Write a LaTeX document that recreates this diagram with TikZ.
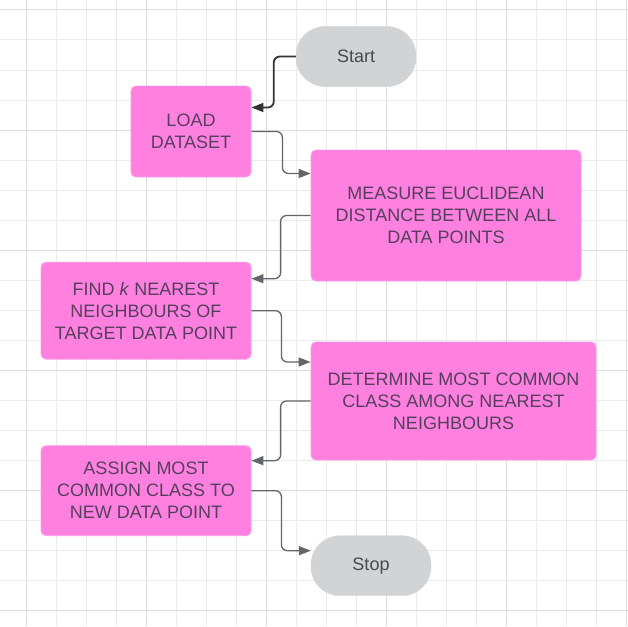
\documentclass[tikz,border=0pt]{standalone}
\usepackage{fontspec}
\setmainfont{Liberation Sans}
\usetikzlibrary{arrows.meta}
\definecolor{boxpink}{HTML}{FF80DF}
\definecolor{boxedge}{HTML}{FF9CE8}
\definecolor{pillgray}{HTML}{D2D3D5}
\definecolor{textink}{HTML}{54405E}
\definecolor{pillink}{HTML}{454950}
\definecolor{wire}{HTML}{62656A}
\definecolor{gridminor}{HTML}{EBEBEB}
\definecolor{gridmajor}{HTML}{DDDDDD}
\tikzset{
  procbox/.style={rectangle, rounded corners=5pt, fill=boxpink, draw=boxedge, line width=0.8pt,
    text=textink, align=center, inner sep=0pt, font=\fontsize{18}{22}\selectfont},
  pill/.style={rectangle, rounded corners=29pt, fill=pillgray, draw=pillgray,
    text=pillink, inner sep=0pt, minimum width=120pt, minimum height=60pt, font=\fontsize{18}{22}\selectfont},
  conn/.style={draw=wire, line width=1.3pt, rounded corners=6pt,
    -{Triangle[length=12pt,width=9pt]}},
}

\begin{document}
\begin{tikzpicture}[x=1pt,y=-1pt]
		\useasboundingbox (0,0) rectangle (628,626);
		\fill[white] (0,0) rectangle (628,626);
		% grid
		\foreach \gx in {56.7,86.7,116.7,176.7,206.7,236.7,296.7,326.7,356.7,416.7,446.7,476.7,536.7,566.7,596.7}
			\draw[gridminor, line width=1pt] (\gx,0) -- (\gx,626);
		\foreach \gy in {40,70,100,160,190,220,280,310,340,400,430,460,520,550,580}
			\draw[gridminor, line width=1pt] (0,\gy) -- (628,\gy);
		\foreach \gx in {26.7,146.7,266.7,386.7,506.7,626.7}
			\draw[gridmajor, line width=1pt] (\gx,0) -- (\gx,626);
		\foreach \gy in {10,130,250,370,490,610}
			\draw[gridmajor, line width=1pt] (0,\gy) -- (628,\gy);
		% steps
		\node[pill] (start) at (356,56.5) {Start};
		\node[procbox, minimum width=120pt, minimum height=91pt] (load) at (191,131.5) {LOAD\\DATASET};
		\node[procbox, minimum width=270pt, minimum height=131pt] (meas) at (446,215.5) {MEASURE EUCLIDEAN\\DISTANCE BETWEEN ALL\\DATA POINTS};
		\node[procbox, minimum width=210pt, minimum height=97pt] (find) at (146,310.7) {FIND \textit{k} NEAREST\\NEIGHBOURS OF\\TARGET DATA POINT};
		\node[procbox, minimum width=285pt, minimum height=118pt] (det) at (453.5,401) {DETERMINE MOST COMMON\\CLASS AMONG NEAREST\\NEIGHBOURS};
		\node[procbox, minimum width=210pt, minimum height=90pt] (assign) at (146,490.7) {ASSIGN MOST\\COMMON CLASS TO\\NEW DATA POINT};
		\node[pill] (stop) at (371,565.7) {Stop};
		% connectors
		\draw[conn, draw=black!80, line width=1.8pt] (start.west) -- ++(-22,0) |- ([yshift=24pt]load.east);
		\draw[conn] (load.east) -- ++(31,0) |- ([yshift=42pt]meas.west);
		\draw[conn] (meas.west) -- ++(-30,0) |- ([yshift=32pt]find.east);
		\draw[conn] (find.east) -- ++(30,0) |- ([yshift=39pt]det.west);
		\draw[conn] (det.west) -- ++(-30,0) |- ([yshift=30pt]assign.east);
		\draw[conn] (assign.east) -- ++(30,0) |- ([yshift=15pt]stop.west);
	\end{tikzpicture}
\end{document}
